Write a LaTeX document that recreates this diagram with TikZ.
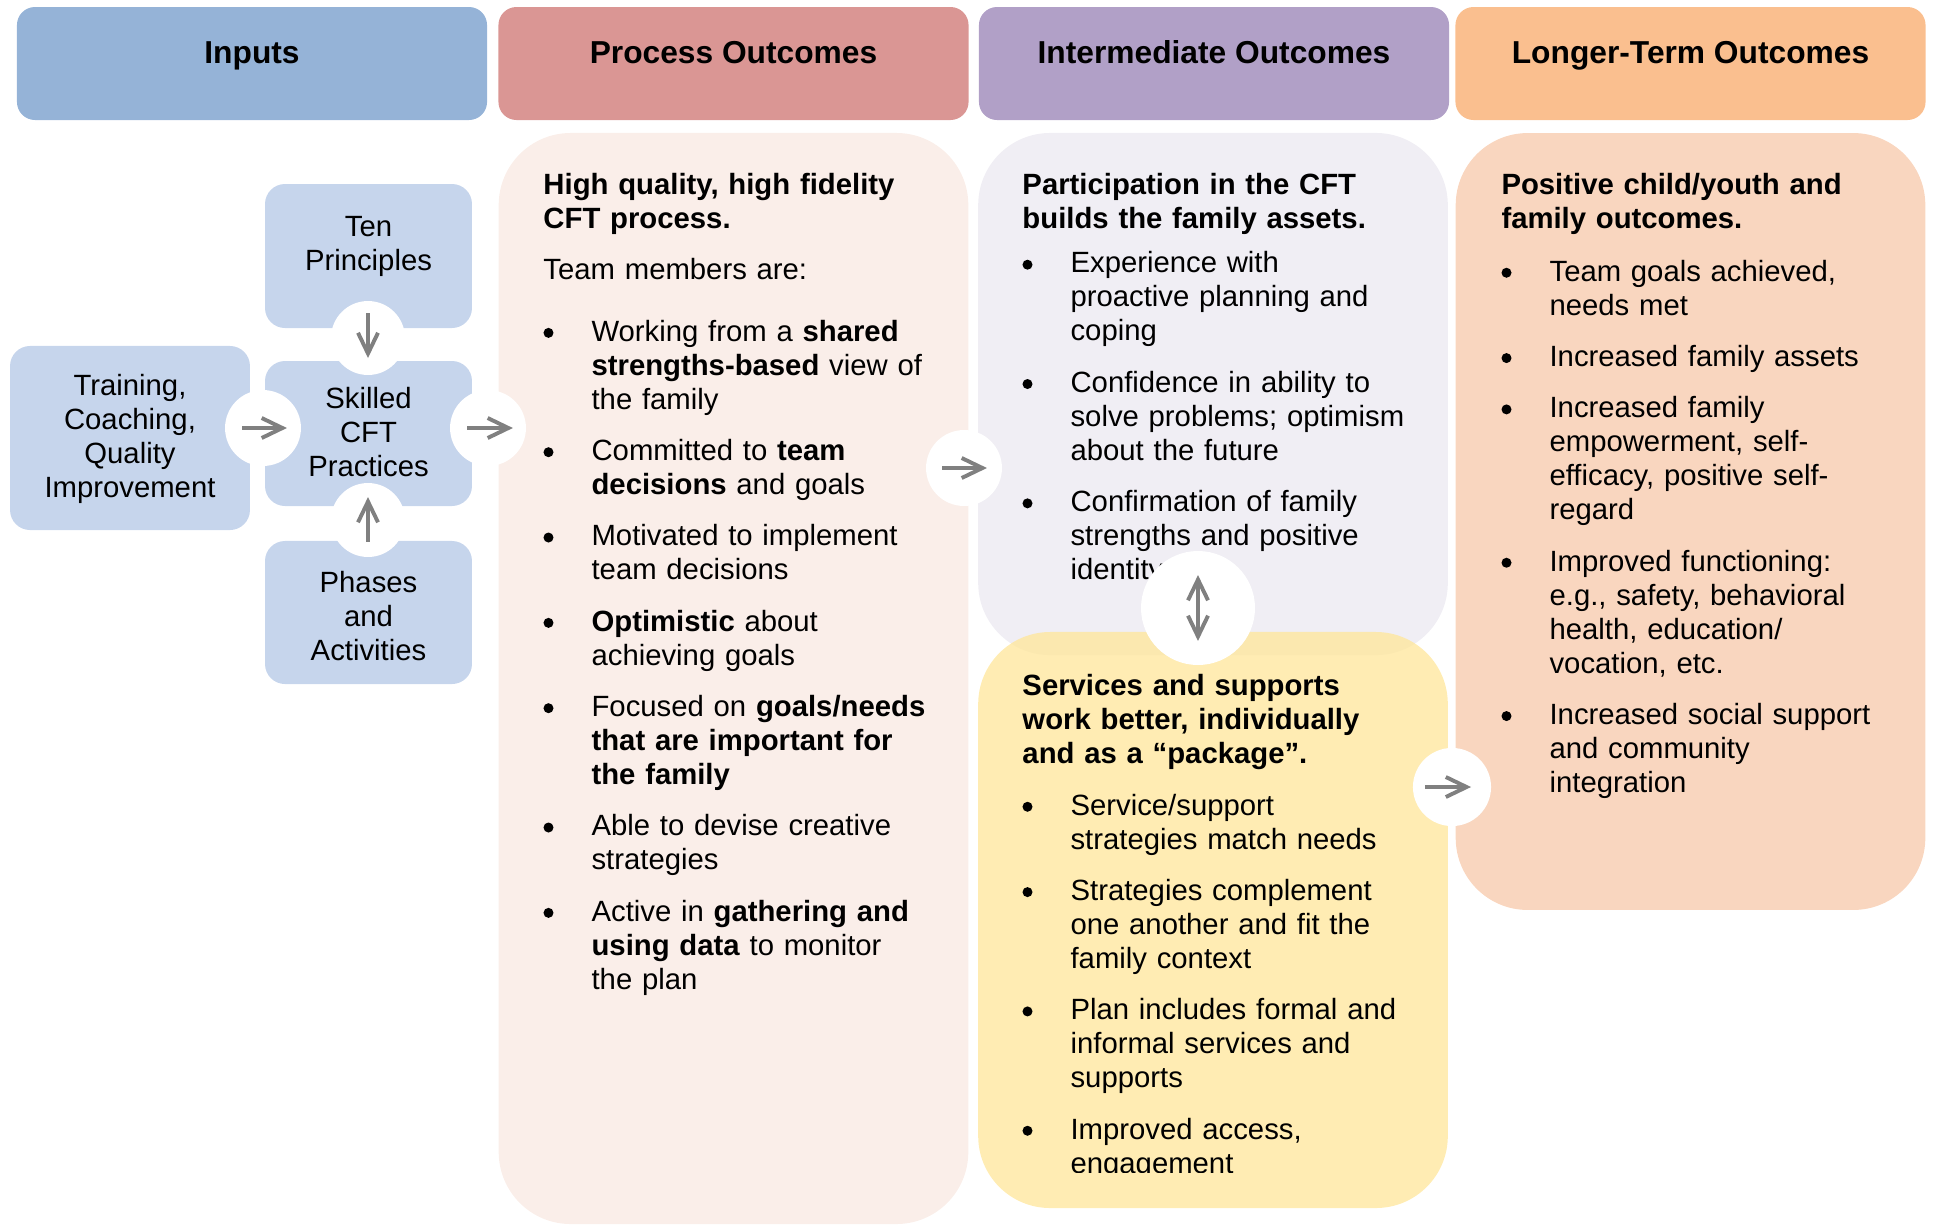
\documentclass[tikz,border=0pt]{standalone}
\usepackage{fontspec}
\setmainfont{Liberation Sans}
\usepackage{enumitem}
\usetikzlibrary{arrows.meta}

\definecolor{hdrblue}{HTML}{95B3D7}
\definecolor{hdrred}{HTML}{DA9694}
\definecolor{hdrpurple}{HTML}{B1A0C7}
\definecolor{hdrorange}{HTML}{FABF8F}
\definecolor{inblue}{HTML}{C6D5EC}
\definecolor{procbg}{HTML}{FAEEE9}
\definecolor{midbg}{HTML}{F0EEF4}
\definecolor{servbg}{HTML}{FFE699}
\definecolor{longbg}{HTML}{F9D6BF}
\definecolor{arrgray}{HTML}{808080}

\newcommand\bodyfont{\fontsize{12}{13.93}\selectfont}
\newcommand\bigdot{\tikz[baseline=0pt]\fill (0pt,3.4pt) circle (2.05pt);}
\setlist[itemize]{nosep,itemsep=7.1pt,leftmargin=19.7pt,labelwidth=19.7pt,labelsep=0pt,align=left,label=\bigdot}

\tikzset{
  barb/.tip={Straight Barb[length=8.5pt,width=8.2pt]},
  hdr/.style={rounded corners=7.4pt, minimum width=192.6pt, minimum height=46.3pt, inner sep=0pt,
    font=\bfseries\fontsize{13}{15}\selectfont, text height=9.5pt, text depth=9.3pt},
  panel/.style={rounded corners=29.5pt, minimum width=192.4pt, inner sep=0pt},
  inbox/.style={fill=inblue, rounded corners=8.2pt, inner sep=0pt, minimum width=84.8pt},
  intext/.style={align=center, inner sep=0pt, font=\bodyfont},
  coltext/.style={anchor=base west, inner sep=0pt, text width=168pt, align=left, font=\bodyfont},
  hole/.style={circle, fill=white, inner sep=0pt, minimum size=31.1pt},
  arr/.style={draw=arrgray, line width=1.6pt, -barb},
  dbl/.style={arr, barb-barb},
}

\begin{document}
\begin{tikzpicture}[x=0.4097pt, y=-0.4097pt]
\useasboundingbox (0,0) rectangle (1933,1224);

% column heads
\node[hdr, fill=hdrblue] (hin) at (252,63.5) {Inputs};
\node[hdr, fill=hdrred] (hproc) at (733.5,63.5) {Process Outcomes};
\node[hdr, fill=hdrpurple] (hmid) at (1214,63.5) {Intermediate Outcomes};
\node[hdr, fill=hdrorange] (hlong) at (1690.5,63.5) {Longer-Term Outcomes};

% inputs
\node[inbox, minimum height=59pt] (ten) at (368.5,256) {};
\node[inbox, minimum height=59.4pt] (skill) at (368.5,433.5) {};
\node[inbox, minimum height=58.6pt] (phase) at (368.5,612.5) {};
\node[inbox, minimum width=98.3pt, minimum height=75.4pt] (train) at (130,438) {};
\node[intext] (tenlbl) at (368.5,246) {Ten\\Principles};
\node[intext] (skilllbl) at (368.5,432) {Skilled\\CFT\\Practices};
\node[intext] (phaselbl) at (368.5,616) {Phases\\and\\Activities};
\node[intext] (trainlbl) at (130,439) {Training,\\Coaching,\\Quality\\Improvement};

% outcome panels
\node[panel, fill=procbg, minimum height=447pt] (proc) at (733.5,678.5) {};
\node[panel, fill=midbg, minimum height=213.9pt] (mid) at (1213,394) {};
\node[panel, fill=longbg, minimum height=318.3pt] (long) at (1690.5,521.5) {};

\node[coltext] (proctxt) at (543,194) {\textbf{High quality, high fidelity}\\
  \textbf{CFT process.}\par\vspace{7pt}
  Team members are:\par\vspace{11.5pt}
  \begin{itemize}
  \item Working from a \textbf{shared}\\\textbf{strengths-based} view of\\the family
  \item Committed to \textbf{team}\\\textbf{decisions} and goals
  \item Motivated to implement\\team decisions
  \item \textbf{Optimistic} about\\achieving goals
  \item Focused on \textbf{goals/needs}\\\textbf{that are important for}\\\textbf{the family}
  \item Able to devise creative\\strategies
  \item Active in \textbf{gathering and}\\\textbf{using data} to monitor\\the plan
  \end{itemize}};

\node[coltext] (midtxt) at (1022,194) {\textbf{Participation in the CFT}\\
  \textbf{builds the family assets.}\par\vspace{4.5pt}
  \begin{itemize}
  \item Experience with\\proactive planning and\\coping
  \item Confidence in ability to\\solve problems; optimism\\about the future
  \item Confirmation of family\\strengths and positive\\identity
  \end{itemize}};

\node[coltext] (longtxt) at (1501,194) {\textbf{Positive child/youth and}\\
  \textbf{family outcomes.}\par\vspace{7.8pt}
  \begin{itemize}
  \item Team goals achieved,\\needs met
  \item Increased family assets
  \item Increased family\\empowerment, self-\\efficacy, positive self-\\regard
  \item Improved functioning:\\e.g., safety, behavioral\\health, education/\\vocation, etc.
  \item Increased social support\\and community\\integration
  \end{itemize}};

\node[panel, fill=servbg, fill opacity=0.75, minimum height=236pt] (serv) at (1213,920) {};
\begin{scope}
  \clip (978,632) rectangle (1448,1172);
  \node[coltext] (servtxt) at (1022,695) {\textbf{Services and supports}\\
    \textbf{work better, individually}\\
    \textbf{and as a “package”.}\par\vspace{7.4pt}
    \begin{itemize}
    \item Service/support\\strategies match needs
    \item Strategies complement\\one another and fit the\\family context
    \item Plan includes formal and\\informal services and\\supports
    \item Improved access,\\engagement
    \end{itemize}};
\end{scope}

% white cut-outs with arrows
\node[hole] (c1) at (263,428) {};
\node[hole, minimum size=30.3pt] (c2) at (368,338) {};
\node[hole, minimum size=30.3pt] (c3) at (368,520) {};
\node[hole] (c4) at (488,428) {};
\node[hole] (c5) at (964,468) {};
\node[hole, minimum size=46.7pt] (c6) at (1198,608) {};
\node[hole, minimum size=32pt] (c7) at (1452,787) {};

\draw[arr] ([xshift=-8.6pt]c1.center) -- ([xshift=9.8pt]c1.center);
\draw[arr] ([yshift=10.2pt]c2.center) -- ([yshift=-8.2pt]c2.center);
\draw[arr] ([yshift=-9pt]c3.center) -- ([yshift=9.4pt]c3.center);
\draw[arr] ([xshift=-8.6pt]c4.center) -- ([xshift=10.2pt]c4.center);
\draw[arr] ([xshift=-9pt]c5.center) -- ([xshift=9.4pt]c5.center);
\draw[dbl] ([yshift=13.5pt]c6.center) -- ([yshift=-13.5pt]c6.center);
\draw[arr] ([xshift=-11.1pt]c7.center) -- ([xshift=7.8pt]c7.center);
\end{tikzpicture}
\end{document}
